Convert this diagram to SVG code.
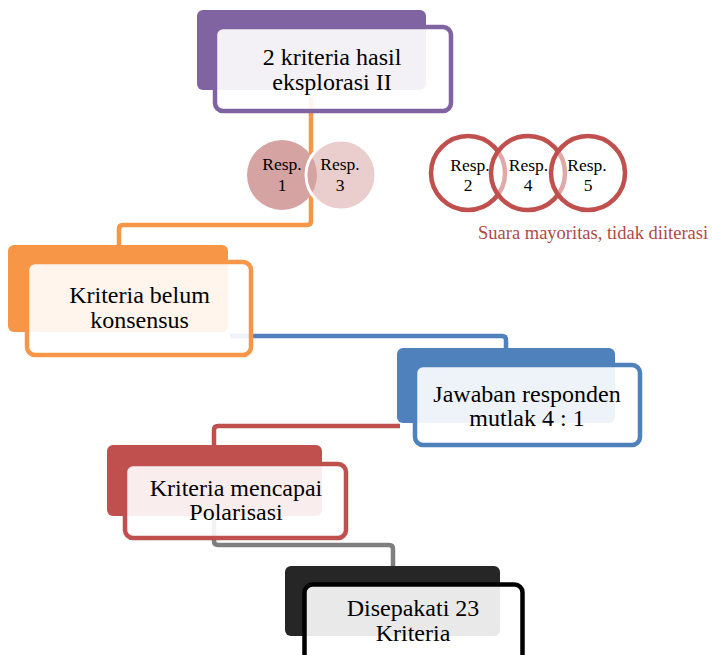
<svg xmlns="http://www.w3.org/2000/svg" width="712" height="655" viewBox="0 0 712 655">
  <style>
    .lbl { font-family: "Liberation Serif", "Times New Roman", serif; font-size: 24px; fill: #000; text-anchor: middle; }
    .small { font-family: "Liberation Serif", "Times New Roman", serif; font-size: 17.5px; fill: #000; text-anchor: middle; }
    .note { font-family: "Liberation Serif", "Times New Roman", serif; font-size: 18.5px; fill: #B04A47; }
    .conn { fill: none; stroke-width: 4.5; stroke-linejoin: round; stroke-linecap: butt; }
    .front { fill: #FFFFFF; fill-opacity: 0.9; stroke-width: 4.5; }
    .ring { fill: #FFFFFF; fill-opacity: 0.5; stroke: #C0504D; stroke-width: 4.5; }
  </style>
  <defs>
    <clipPath id="inResp3">
      <circle cx="341" cy="175" r="33.5"/>
    </clipPath>
  </defs>

  <!-- connectors between the steps -->
  <g id="connectors">
    <path class="conn" stroke="#F79646" d="M311,97 V221 Q311,225 307,225 H123 Q119,225 119,229 V248"/>
    <path class="conn" stroke="#4F81BD" d="M230,336 H502 Q506,336 506,340 V350"/>
    <path class="conn" stroke="#C0504D" d="M400,426 H218 Q214,426 214,430 V448"/>
    <path class="conn" stroke="#7F7F7F" d="M214,520 V541 Q214,545 218,545 H389 Q393,545 393,549 V568"/>
  </g>

  <!-- step 1 -->
  <g id="node-eksplorasi">
    <rect x="197" y="10" width="229" height="80" rx="6" fill="#8064A2"/>
    <rect class="front" x="215" y="27" width="236" height="84" rx="8" stroke="#8064A2"/>
    <text class="lbl" x="332" y="65">2 kriteria hasil</text>
    <text class="lbl" x="332" y="90">eksplorasi II</text>
  </g>

  <!-- step 2 -->
  <g id="node-belum-konsensus">
    <rect x="8" y="245" width="220" height="87" rx="6" fill="#F79646"/>
    <rect class="front" x="27" y="262" width="224" height="93" rx="8" stroke="#F79646"/>
    <text class="lbl" x="139.5" y="303">Kriteria belum</text>
    <text class="lbl" x="139.5" y="328">konsensus</text>
  </g>

  <!-- step 3 -->
  <g id="node-jawaban">
    <rect x="397" y="348" width="218" height="75" rx="6" fill="#4F81BD"/>
    <rect class="front" x="415" y="365" width="225" height="80" rx="8" stroke="#4F81BD"/>
    <text class="lbl" x="527" y="402">Jawaban responden</text>
    <text class="lbl" x="527" y="426">mutlak 4 : 1</text>
  </g>

  <!-- step 4 -->
  <g id="node-polarisasi">
    <rect x="107" y="445" width="215" height="71" rx="6" fill="#C0504D"/>
    <rect class="front" x="125" y="464" width="221" height="74" rx="8" stroke="#C0504D"/>
    <text class="lbl" x="236" y="496">Kriteria mencapai</text>
    <text class="lbl" x="236" y="520">Polarisasi</text>
  </g>

  <!-- step 5 -->
  <g id="node-disepakati">
    <rect x="285" y="566" width="215" height="70" rx="6" fill="#262626"/>
    <rect class="front" x="304.5" y="584.5" width="218" height="90" rx="8" stroke="#000000" stroke-width="5"/>
    <text class="lbl" x="413" y="616">Disepakati 23</text>
    <text class="lbl" x="413" y="641">Kriteria</text>
  </g>

  <!-- respondents 1 and 3 -->
  <g id="resp-1-3">
    <circle cx="282" cy="175" r="35" fill="#D5A3A2"/>
    <circle cx="341" cy="175" r="35" fill="#EACECD" stroke="#FFFFFF" stroke-width="3"/>
    <circle cx="282" cy="175" r="35" fill="#D5A3A2" clip-path="url(#inResp3)"/>
    <text class="small" x="282" y="170">Resp.</text>
    <text class="small" x="282" y="191">1</text>
    <text class="small" x="340" y="170">Resp.</text>
    <text class="small" x="340" y="191">3</text>
  </g>

  <!-- respondents 2, 4 and 5 -->
  <g id="resp-2-4-5">
    <circle class="ring" cx="468" cy="173" r="37"/>
    <circle class="ring" cx="528" cy="173" r="37"/>
    <circle class="ring" cx="588" cy="173" r="37"/>
    <text class="small" x="470" y="171">Resp.</text>
    <text class="small" x="468" y="191">2</text>
    <text class="small" x="528.5" y="171">Resp.</text>
    <text class="small" x="528" y="191">4</text>
    <text class="small" x="587" y="171">Resp.</text>
    <text class="small" x="588" y="191">5</text>
    <text class="note" x="478" y="239">Suara mayoritas, tidak diiterasi</text>
  </g>
</svg>
